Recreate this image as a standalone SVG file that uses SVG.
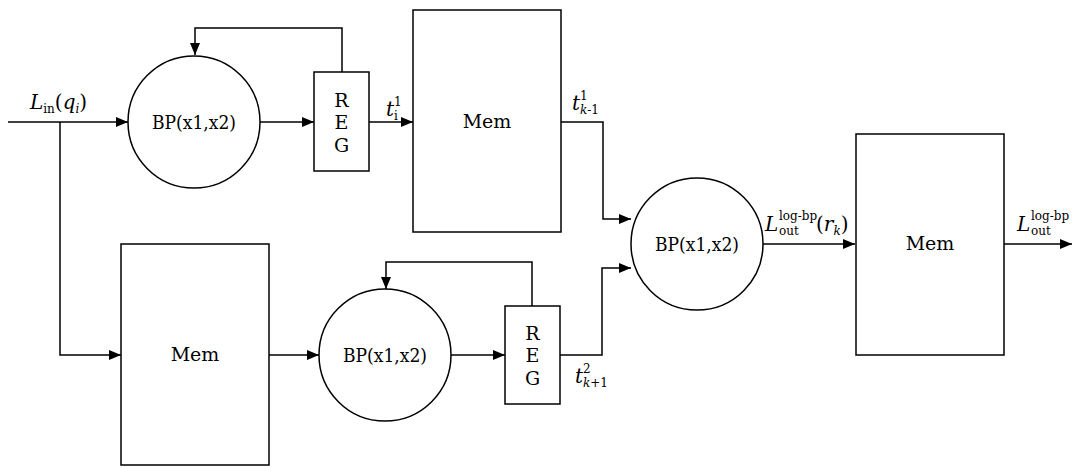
<svg xmlns="http://www.w3.org/2000/svg" width="1075" height="468" viewBox="0 0 1075 468" font-family="'DejaVu Serif', 'Liberation Serif', serif">
<style>
.n{fill:#fff;stroke:#000;stroke-width:1.5}
.c{fill:none;stroke:#000;stroke-width:1.5}
text{fill:#000}
.t{font-size:20px}
.m{font-size:19px}
.b{font-size:19px}
.i{font-style:italic}
.s{font-size:12px}
</style>
<defs>
<marker id="a" viewBox="0 0 12 10" refX="12" refY="5" markerWidth="12" markerHeight="10" markerUnits="userSpaceOnUse" orient="auto">
<path d="M0,0 L12,5 L0,10 z" fill="#000"/>
</marker>
</defs>
<rect width="1075" height="468" fill="#fff"/>
<g id="connectors">
<path class="c" d="M8,122 H128" marker-end="url(#a)"/>
<path class="c" d="M60,122 V355 H121" marker-end="url(#a)"/>
<path class="c" d="M260,122 H314" marker-end="url(#a)"/>
<path class="c" d="M342,72 V28 H195 V55" marker-end="url(#a)"/>
<path class="c" d="M369,122 H413" marker-end="url(#a)"/>
<path class="c" d="M561,122 H603 V219 H631" marker-end="url(#a)"/>
<path class="c" d="M269,355 H319" marker-end="url(#a)"/>
<path class="c" d="M451,355 H505" marker-end="url(#a)"/>
<path class="c" d="M532,306 V262 H386 V289" marker-end="url(#a)"/>
<path class="c" d="M560,355 H602 V268 H631" marker-end="url(#a)"/>
<path class="c" d="M762,244 H855" marker-end="url(#a)"/>
<path class="c" d="M1004,244 H1072" marker-end="url(#a)"/>
</g>
<g id="bp1"><circle class="n" cx="194" cy="122" r="66"/><text class="b" x="194" y="129" text-anchor="middle" textLength="84" lengthAdjust="spacingAndGlyphs">BP(x1,x2)</text></g>
<g id="reg1"><rect class="n" x="314" y="72" width="55" height="99"/><text class="m" x="341.5" y="107" text-anchor="middle">R</text><text class="m" x="341.5" y="129" text-anchor="middle">E</text><text class="m" x="341.5" y="152" text-anchor="middle">G</text></g>
<g id="mem1"><rect class="n" x="413" y="10" width="148" height="222"/><text class="m" x="487" y="128" text-anchor="middle">Mem</text></g>
<g id="mem2"><rect class="n" x="121" y="244" width="148" height="221"/><text class="m" x="195" y="361" text-anchor="middle">Mem</text></g>
<g id="bp2"><circle class="n" cx="385" cy="355" r="66"/><text class="b" x="385" y="362" text-anchor="middle" textLength="84" lengthAdjust="spacingAndGlyphs">BP(x1,x2)</text></g>
<g id="reg2"><rect class="n" x="505" y="306" width="55" height="98"/><text class="m" x="532.5" y="340" text-anchor="middle">R</text><text class="m" x="532.5" y="362" text-anchor="middle">E</text><text class="m" x="532.5" y="385" text-anchor="middle">G</text></g>
<g id="bp3"><circle class="n" cx="697" cy="244" r="66"/><text class="b" x="697" y="251" text-anchor="middle" textLength="84" lengthAdjust="spacingAndGlyphs">BP(x1,x2)</text></g>
<g id="mem3"><rect class="n" x="856" y="134" width="148" height="221"/><text class="m" x="930" y="250" text-anchor="middle">Mem</text></g>
<g id="labels">
<text class="t" x="30" y="109"><tspan class="i">L</tspan><tspan class="s" dy="4">in</tspan><tspan dy="-4">(</tspan><tspan class="i">q</tspan><tspan class="s i" dy="4">i</tspan><tspan dy="-4">)</tspan></text>
<text class="t i" x="386" y="116">t</text><text class="s" x="394" y="106">1</text><text class="s" x="394" y="120">i</text>
<text class="t i" x="572" y="110">t</text><text class="s" x="580" y="100">1</text><text class="s" x="580" y="114"><tspan class="i">k</tspan>-1</text>
<text class="t i" x="765" y="231">L</text><text class="s" x="779" y="220">log-bp</text><text class="s" x="779" y="235">out</text><text class="t" x="816" y="231">(<tspan class="i">r</tspan><tspan class="s i" dy="4">k</tspan><tspan dy="-4">)</tspan></text>
<text class="t i" x="1017" y="231">L</text><text class="s" x="1031" y="220">log-bp</text><text class="s" x="1031" y="235">out</text>
<text class="t i" x="575" y="383">t</text><text class="s" x="583" y="373">2</text><text class="s" x="583" y="387"><tspan class="i">k</tspan>+1</text>
</g>
</svg>
